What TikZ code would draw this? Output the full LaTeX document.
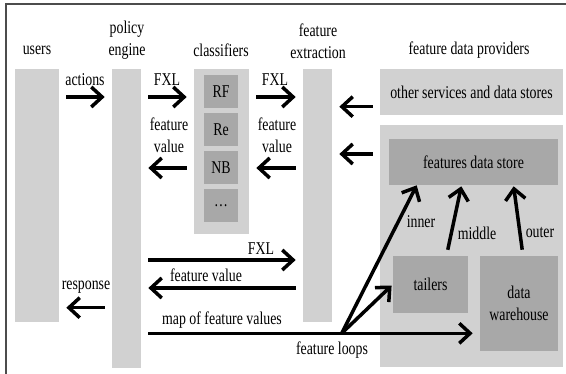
\documentclass[tikz,border=0pt]{standalone}
\usepackage{fontspec}
\setmainfont{Liberation Serif}[FakeStretch=0.77]
\usetikzlibrary{arrows.meta}
\def\px{0.6pt}
\tikzset{
  lite/.style={fill=black!18, inner sep=0pt},
  dark/.style={fill=black!34, inner sep=0pt},
  sz/.style 2 args={minimum width=#1*\px, minimum height=#2*\px},
  lbl/.style={inner sep=0pt, align=center},
  tip/.style={-{Straight Barb[length=6.5pt,width=12pt]}},
  flow/.style={line width=2.1pt, tip, shorten <=7*\px, shorten >=7*\px},
  loopflow/.style={line width=2.1pt, tip},
}
\begin{document}
\begin{tikzpicture}[x=\px, y=-\px, font=\fontsize{10.8pt}{13pt}\selectfont]
\useasboundingbox (0,0) rectangle (566,374);
\draw[black!70, line width=0.9pt] (6,374) -- (6,4) -- (566,4);

% columns
\draw (37,195.5) node[lite, sz={44}{253}] (users) {};
\draw (126.5,218.5) node[lite, sz={29}{299}] (pe) {};
\draw (221.5,151.5) node[lite, sz={55}{165}] (cl) {};
\draw (221,92) node[dark, sz={34}{33}] (rf) {RF};
\draw (221,130) node[dark, sz={34}{33}] (re) {Re};
\draw (221,168) node[dark, sz={34}{33}] (nb) {NB};
\draw (221,206) node[dark, sz={34}{33}] (more) {\dots};
\draw (317.5,195.5) node[lite, sz={29}{253}] (fe) {};

% providers
\draw (471.5,92) node[lite, sz={183}{46}] (other) {other services and data stores};
\draw (471.5,246) node[lite, sz={183}{242}] (prov) {};
\draw (473.5,162) node[dark, sz={169}{46}] (fds) {features data store};
\draw (430.5,284.5) node[dark, sz={75}{57}] (tailers) {tailers};
\draw (519,303.5) node[dark, sz={78}{95}, align=center] (dw) {data\\warehouse};

% headings
\draw (37,50) node[lbl] (hUsers) {users};
\draw (127,40) node[lbl] (hPe) {policy\\engine};
\draw (221,50) node[lbl] (hCl) {classifiers};
\draw (318,41) node[lbl] (hFe) {feature\\extraction};
\draw (469,50) node[lbl] (hProv) {feature data providers};

% rows
\coordinate (r1) at (0,97);
\coordinate (r2) at (0,168);
\coordinate (pa) at (0,106.7);
\coordinate (pb) at (0,154);
\coordinate (r3) at (0,260);
\coordinate (r4) at (0,288);
\coordinate (r5) at (0,307.7);
\coordinate (r6) at (0,333.3);
\coordinate (loop) at (341.7,333.3);

\draw[flow] (users.east |- r1) -- (pe.west |- r1);
\draw[flow] (pe.east |- r1) -- (cl.west |- r1);
\draw[flow] (cl.west |- r2) -- (pe.east |- r2);
\draw[flow] (cl.east |- r1) -- (fe.west |- r1);
\draw[flow] (fe.west |- r2) -- (cl.east |- r2);
\draw[flow] (other.west |- pa) -- (fe.east |- pa);
\draw[flow] (prov.west |- pb) -- (fe.east |- pb);
\draw[flow] (pe.east |- r3) -- (fe.west |- r3);
\draw[flow] (fe.west |- r4) -- (pe.east |- r4);
\draw[flow] (pe.west |- r5) -- (users.east |- r5);
\draw[flow] (pe.east |- r6) -- (dw.west |- r6);

% feature loops
\draw[loopflow, shorten >=1.5*\px] (loop) -- (tailers.west);
\draw[loopflow] (loop) -- ([xshift=28*\px]fds.south west);
\draw[loopflow, shorten <=6*\px, shorten >=1*\px] ([xshift=16*\px]tailers.north) -- ([xshift=-12*\px]fds.south);
\draw[loopflow, shorten <=6*\px, shorten >=1*\px] ([xshift=4*\px]dw.north) -- ([xshift=40*\px]fds.south);

% labels
\draw (85,80) node[lbl] (lActions) {actions};
\draw (167,80) node[lbl] (lFxl1) {FXL};
\draw (169,135) node[lbl] (lVal1) {feature\\value};
\draw (275,80) node[lbl] (lFxl2) {FXL};
\draw (277,135) node[lbl] (lVal2) {feature\\value};
\draw (261,249) node[lbl] (lFxl3) {FXL};
\draw (206,275) node[lbl] (lVal3) {feature value};
\draw (86,287) node[lbl] (lResp) {response};
\draw (222,320) node[lbl] (lMap) {map of feature values};
\draw (332,350) node[lbl] (lLoops) {feature loops};
\draw (421,222) node[lbl] (lInner) {inner};
\draw (477,233) node[lbl] (lMiddle) {middle};
\draw (540,233) node[lbl] (lOuter) {outer};
\end{tikzpicture}
\end{document}
